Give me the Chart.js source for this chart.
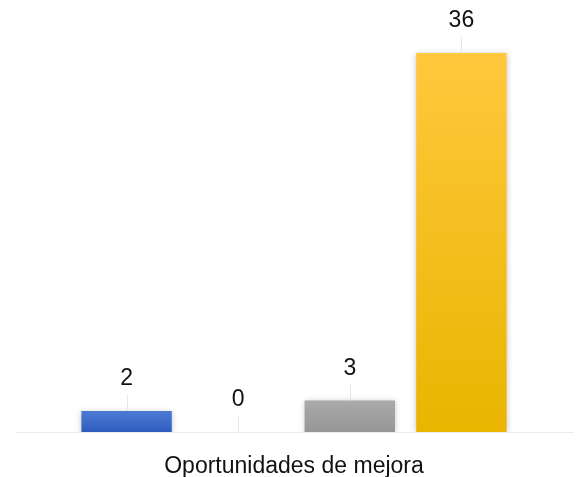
<!DOCTYPE html>
<html><head><meta charset="utf-8">
<script src="https://cdn.jsdelivr.net/npm/chart.js@4/dist/chart.umd.min.js"></script>
<style>html,body{margin:0;padding:0;background:#fff}#wrap{width:581px;height:477px}</style>
</head><body><div id="wrap"><canvas id="c" width="581" height="477"></canvas></div>
<script>
const categories = ["Oportunidades de mejora"];
const seriesNames = ["Serie 1", "Serie 2", "Serie 3", "Serie 4"];
const seriesValues = [2, 0, 3, 36];
const topColors = ["#4D7BD3", "#F08A3C", "#AAAAAA", "#FFC83D"];
const bottomColors = ["#2E5CBE", "#D9712A", "#969696", "#E9B500"];
const FONT = '"Liberation Sans", Arial, Helvetica, sans-serif';

function grad(ctx, i) {
  const ch = ctx.chart, area = ch.chartArea;
  if (!area) return topColors[i];
  const y = ch.scales.y;
  const g = ch.ctx.createLinearGradient(0, y.getPixelForValue(seriesValues[i]), 0, y.getPixelForValue(0));
  g.addColorStop(0, topColors[i]);
  g.addColorStop(1, bottomColors[i]);
  return g;
}

const datasets = seriesNames.map((n, i) => ({
  label: n,
  data: [seriesValues[i]],
  backgroundColor: (ctx) => grad(ctx, i),
  borderWidth: 0,
  barPercentage: 0.81,
  categoryPercentage: 0.8
}));

const shadowPlugin = {
  id: 'shadow',
  beforeDatasetsDraw(chart) {
    const c = chart.ctx; c.save();
    c.shadowColor = 'rgba(0,0,0,0.22)'; c.shadowBlur = 6; c.shadowOffsetX = 0; c.shadowOffsetY = 1;
  },
  afterDatasetsDraw(chart) { chart.ctx.restore(); }
};

const labelPlugin = {
  id: 'labels',
  afterDatasetsDraw(chart) {
    const c = chart.ctx;
    c.save();
    chart.data.datasets.forEach((ds, i) => {
      const meta = chart.getDatasetMeta(i);
      meta.data.forEach((bar, j) => {
        const x = bar.x, top = bar.y;
        c.strokeStyle = '#e6e6e6'; c.lineWidth = 1;
        c.beginPath(); c.moveTo(Math.round(x) + 0.5, top - 16); c.lineTo(Math.round(x) + 0.5, top); c.stroke();
        c.fillStyle = '#111';
        c.font = '23px ' + FONT;
        c.textAlign = 'center'; c.textBaseline = 'middle';
        c.fillText(String(ds.data[j]), x, top - 32);
      });
    });
    c.restore();
  }
};

new Chart(document.getElementById('c'), {
  type: 'bar',
  data: { labels: categories, datasets },
  plugins: [shadowPlugin, labelPlugin],
  options: {
    responsive: false,
    animation: false,
    layout: { padding: { left: 15, right: 8, top: 11, bottom: 0 } },
    plugins: { legend: { display: false }, tooltip: { enabled: false } },
    scales: {
      x: {
        afterFit(scale) { scale.height = 45; },
        grid: { display: false, drawTicks: false },
        border: { display: true, color: '#ececec', width: 1 },
        ticks: { color: '#111', font: { size: 23, family: FONT }, padding: 21 }
      },
      y: { display: false, min: 0, max: 40 }
    }
  }
});
</script></body></html>
